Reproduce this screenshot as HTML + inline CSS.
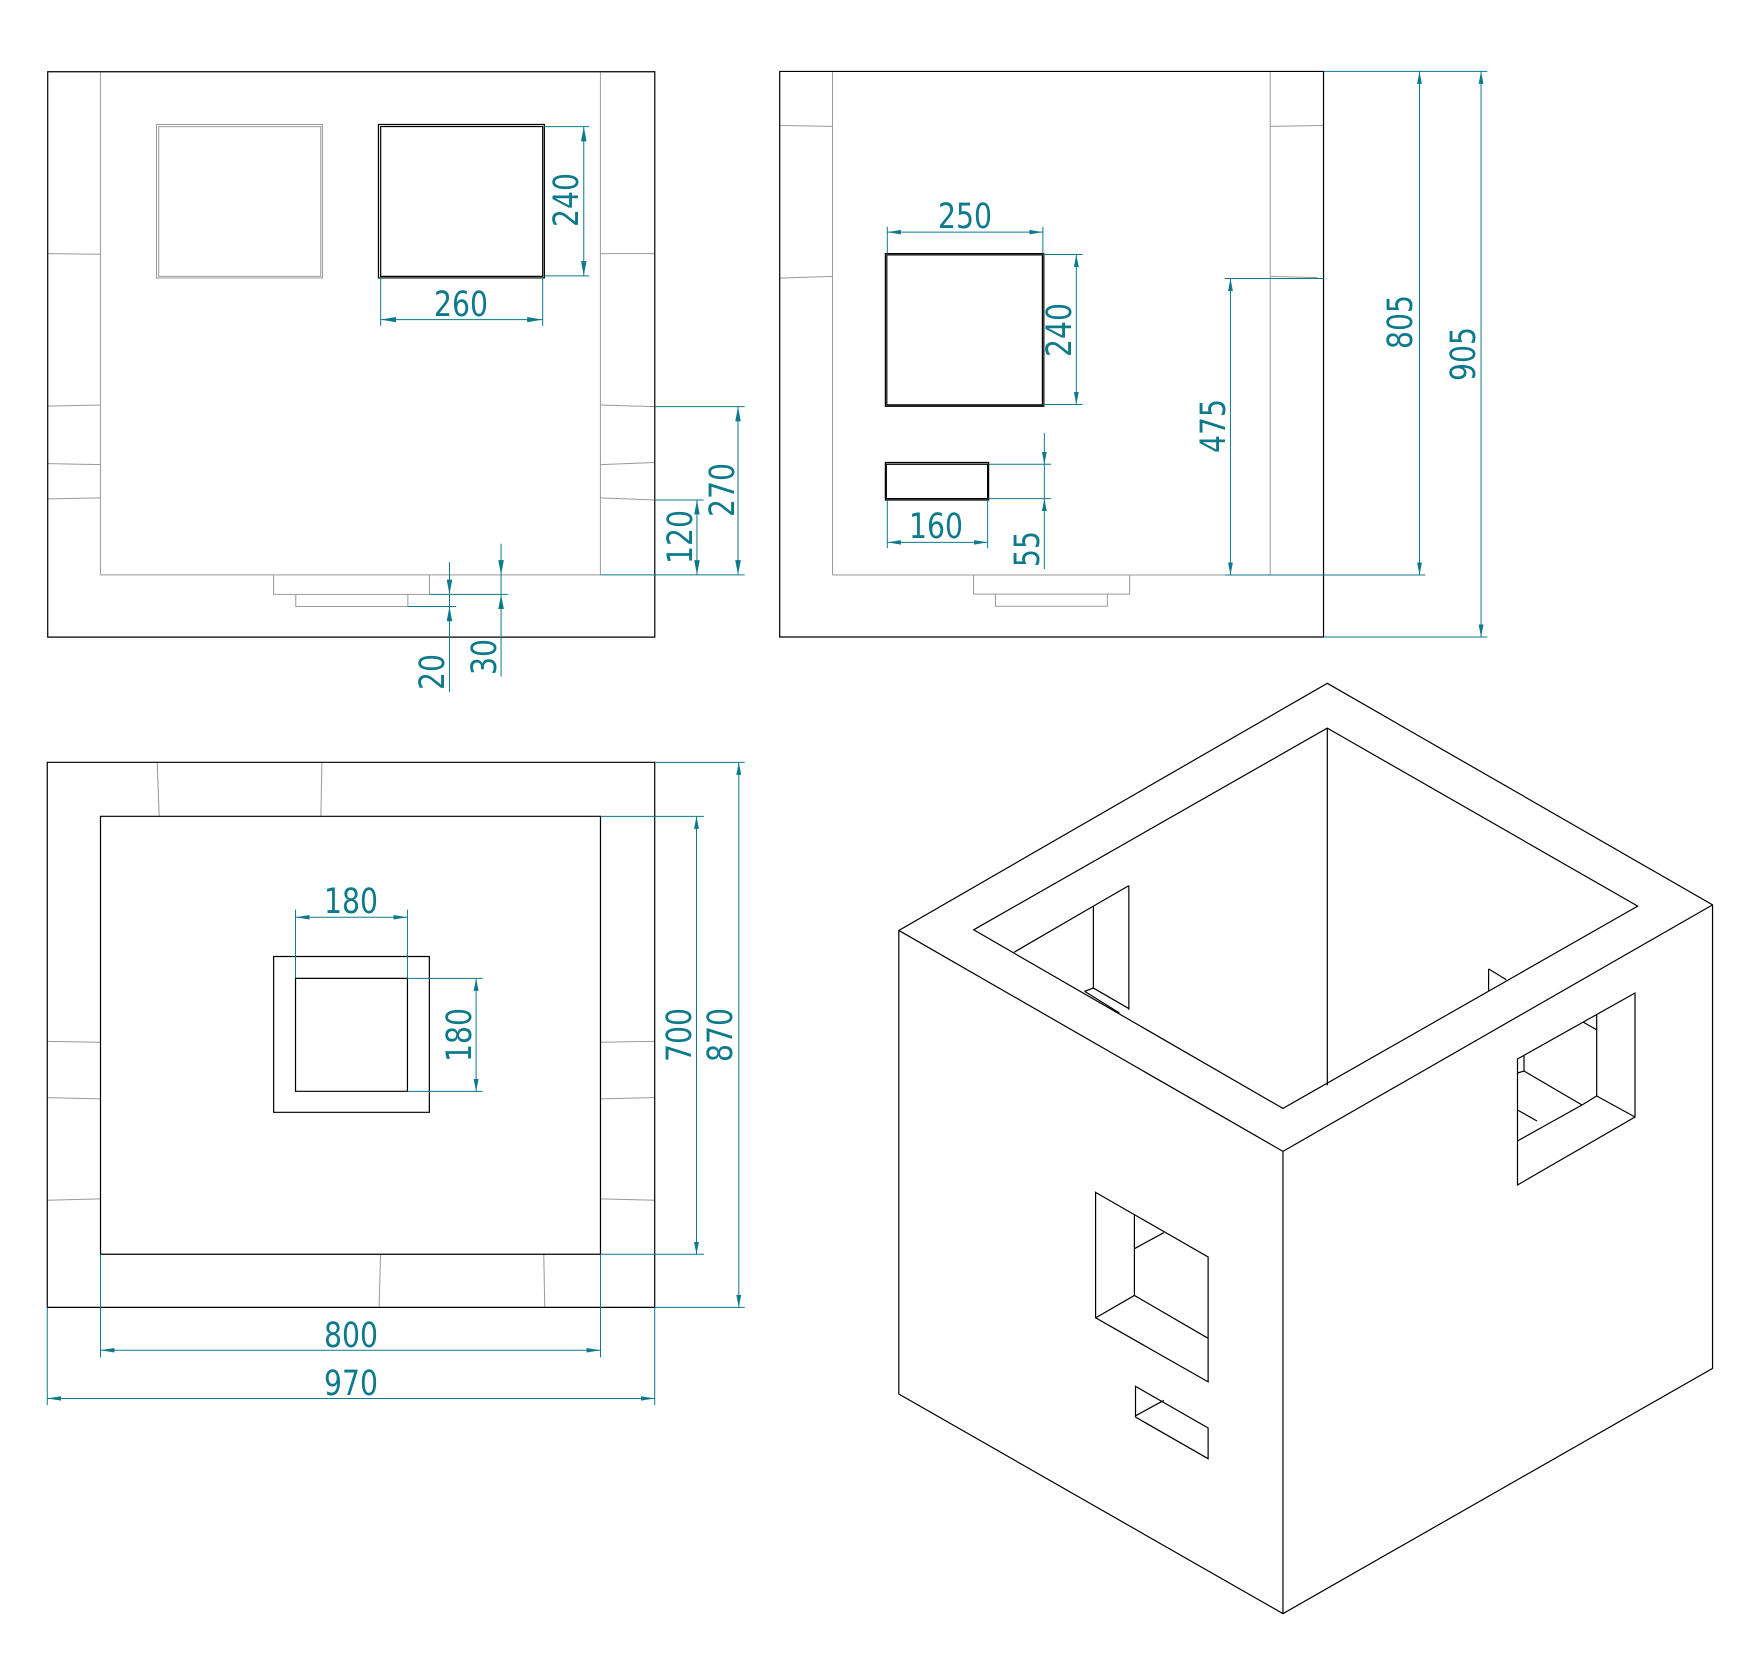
<!DOCTYPE html>
<html><head><meta charset="utf-8"><style>
html,body{margin:0;padding:0;background:#fff}
svg{display:block}
line,rect,polyline,polygon,path{vector-effect:non-scaling-stroke}
text{font-family:"DejaVu Sans","Liberation Sans",sans-serif;fill:#0d7a8c;font-size:35px}
</style></head><body>
<svg width="1739" height="1654" viewBox="0 0 1739 1654" xmlns="http://www.w3.org/2000/svg">
<defs>
<marker id="a" viewBox="0 0 28 14" refX="28" refY="7" markerWidth="28" markerHeight="14" orient="auto-start-reverse" markerUnits="userSpaceOnUse"><path d="M0,2 L28,7 L0,12z" fill="#0d7a8c"/></marker>
</defs>

<!-- VIEW 1 -->
<g transform="scale(0.5549,0.5274)" fill="none" stroke-width="1">
<g stroke="#999">
<line x1="181" y1="136" x2="181" y2="1090"/><line x1="1082" y1="136" x2="1082" y2="1090"/>
<line x1="181" y1="1090" x2="1082" y2="1090"/>
<line x1="86" y1="481" x2="181" y2="482"/><line x1="86" y1="770" x2="181" y2="768"/><line x1="86" y1="879" x2="181" y2="881"/><line x1="86" y1="946" x2="181" y2="944"/>
<line x1="1082" y1="481" x2="1180" y2="481"/><line x1="1082" y1="768" x2="1180" y2="771"/><line x1="1082" y1="881" x2="1180" y2="877"/><line x1="1082" y1="944" x2="1180" y2="948"/>
<rect x="282" y="236" width="299" height="291"/><rect x="286" y="240" width="292" height="284"/>
<polyline points="493,1090 493,1127 774,1127 774,1090"/>
<polyline points="533,1127 533,1150 735,1150 735,1127"/>
</g>
<g stroke="#000" stroke-width="1.2">
<rect x="86" y="136" width="1094" height="1072"/>
<rect x="682" y="236" width="299" height="291"/><rect x="686" y="240" width="292" height="284"/>
</g>
<g stroke="#0d7a8c">
<line x1="981" y1="240" x2="1062" y2="240"/><line x1="981" y1="523" x2="1062" y2="523"/>
<line x1="1052" y1="240" x2="1052" y2="523" marker-start="url(#a)" marker-end="url(#a)"/>
<line x1="686" y1="527" x2="686" y2="618"/><line x1="978" y1="527" x2="978" y2="618"/>
<line x1="686" y1="606" x2="978" y2="606" marker-start="url(#a)" marker-end="url(#a)"/>
<line x1="1180" y1="771" x2="1342" y2="771"/><line x1="1082" y1="1090" x2="1342" y2="1090"/>
<line x1="1330" y1="771" x2="1330" y2="1090" marker-start="url(#a)" marker-end="url(#a)"/>
<line x1="1180" y1="948" x2="1268" y2="948"/>
<line x1="1256" y1="948" x2="1256" y2="1090" marker-start="url(#a)" marker-end="url(#a)"/>
<line x1="774" y1="1127" x2="915" y2="1127"/><line x1="735" y1="1150" x2="822" y2="1150"/>
<line x1="810" y1="1066" x2="810" y2="1127" marker-end="url(#a)"/><line x1="810" y1="1312" x2="810" y2="1150" marker-end="url(#a)"/><line x1="810" y1="1127" x2="810" y2="1150"/>
<line x1="903" y1="1031" x2="903" y2="1090" marker-end="url(#a)"/><line x1="903" y1="1283" x2="903" y2="1127" marker-end="url(#a)"/><line x1="903" y1="1090" x2="903" y2="1127"/>
</g>
</g>
<text x="461" y="316" text-anchor="middle" textLength="54" lengthAdjust="spacingAndGlyphs">260</text>
<text transform="translate(567,200) rotate(-90)" text-anchor="middle" dominant-baseline="central" textLength="54" lengthAdjust="spacingAndGlyphs">240</text>
<text transform="translate(723,490) rotate(-90)" text-anchor="middle" dominant-baseline="central" textLength="54" lengthAdjust="spacingAndGlyphs">270</text>
<text transform="translate(681,537) rotate(-90)" text-anchor="middle" dominant-baseline="central" textLength="54" lengthAdjust="spacingAndGlyphs">120</text>
<text transform="translate(433,672) rotate(-90)" text-anchor="middle" dominant-baseline="central" textLength="36" lengthAdjust="spacingAndGlyphs">20</text>
<text transform="translate(485,657) rotate(-90)" text-anchor="middle" dominant-baseline="central" textLength="36" lengthAdjust="spacingAndGlyphs">30</text>

<!-- VIEW 2 -->
<g transform="translate(770,0) scale(0.4847,0.4464)" fill="none" stroke-width="1">
<g stroke="#999">
<line x1="129" y1="160" x2="129" y2="1288"/><line x1="1032" y1="160" x2="1032" y2="1288"/>
<line x1="129" y1="1288" x2="938" y2="1288"/>
<line x1="20" y1="281" x2="129" y2="283"/><line x1="20" y1="623" x2="129" y2="619"/>
<line x1="1032" y1="283" x2="1142" y2="281"/><line x1="1032" y1="619" x2="1130" y2="622"/>
<polyline points="420,1288 420,1331 742,1331 742,1288"/>
<polyline points="465,1331 465,1358 696,1358 696,1331"/>
</g>
<g stroke="#000" stroke-width="1.2">
<rect x="20" y="160" width="1122" height="1267"/>
<rect x="238" y="568" width="327" height="342"/><rect x="241" y="571" width="321" height="336"/>
<rect x="238" y="1036" width="213" height="84"/><rect x="240" y="1040" width="209" height="77"/>
</g>
<g stroke="#0d7a8c">
<line x1="242" y1="508" x2="242" y2="568"/><line x1="563" y1="508" x2="563" y2="568"/>
<line x1="242" y1="520" x2="563" y2="520" marker-start="url(#a)" marker-end="url(#a)"/>
<line x1="565" y1="570" x2="645" y2="570"/><line x1="565" y1="906" x2="645" y2="906"/>
<line x1="632" y1="570" x2="632" y2="906" marker-start="url(#a)" marker-end="url(#a)"/>
<line x1="242" y1="1120" x2="242" y2="1228"/><line x1="449" y1="1120" x2="449" y2="1228"/>
<line x1="242" y1="1215" x2="449" y2="1215" marker-start="url(#a)" marker-end="url(#a)"/>
<line x1="451" y1="1040" x2="580" y2="1040"/><line x1="451" y1="1117" x2="580" y2="1117"/>
<line x1="566" y1="970" x2="566" y2="1040" marker-end="url(#a)"/><line x1="566" y1="1275" x2="566" y2="1117" marker-end="url(#a)"/><line x1="566" y1="1040" x2="566" y2="1117"/>
<line x1="938" y1="624" x2="1142" y2="624"/><line x1="938" y1="1288" x2="1352" y2="1288"/>
<line x1="950" y1="624" x2="950" y2="1288" marker-start="url(#a)" marker-end="url(#a)"/>
<line x1="1142" y1="160" x2="1480" y2="160"/><line x1="1142" y1="1427" x2="1480" y2="1427"/>
<line x1="1340" y1="160" x2="1340" y2="1288" marker-start="url(#a)" marker-end="url(#a)"/>
<line x1="1467" y1="160" x2="1467" y2="1427" marker-start="url(#a)" marker-end="url(#a)"/>
</g>
</g>
<text x="965" y="228" text-anchor="middle" textLength="54" lengthAdjust="spacingAndGlyphs">250</text>
<text transform="translate(1060,330) rotate(-90)" text-anchor="middle" dominant-baseline="central" textLength="54" lengthAdjust="spacingAndGlyphs">240</text>
<text x="936" y="538" text-anchor="middle" textLength="54" lengthAdjust="spacingAndGlyphs">160</text>
<text transform="translate(1028,549) rotate(-90)" text-anchor="middle" dominant-baseline="central" textLength="36" lengthAdjust="spacingAndGlyphs">55</text>
<text transform="translate(1214,426) rotate(-90)" text-anchor="middle" dominant-baseline="central" textLength="54" lengthAdjust="spacingAndGlyphs">475</text>
<text transform="translate(1401,322) rotate(-90)" text-anchor="middle" dominant-baseline="central" textLength="54" lengthAdjust="spacingAndGlyphs">805</text>
<text transform="translate(1464,354) rotate(-90)" text-anchor="middle" dominant-baseline="central" textLength="54" lengthAdjust="spacingAndGlyphs">905</text>

<!-- VIEW 3 -->
<g transform="translate(0,740) scale(0.4975,0.4464)" fill="none" stroke-width="1">
<g stroke="#999">
<line x1="316" y1="50" x2="320" y2="171"/><line x1="647" y1="50" x2="645" y2="171"/>
<line x1="765" y1="1152" x2="762" y2="1271"/><line x1="1093" y1="1152" x2="1095" y2="1271"/>
<line x1="95" y1="675" x2="202" y2="677"/><line x1="95" y1="801" x2="202" y2="804"/><line x1="95" y1="1031" x2="202" y2="1028"/>
<line x1="1207" y1="677" x2="1316" y2="675"/><line x1="1207" y1="804" x2="1316" y2="801"/><line x1="1207" y1="1028" x2="1316" y2="1031"/>
</g>
<g stroke="#000" stroke-width="1.2">
<rect x="95" y="50" width="1221" height="1221"/>
<rect x="202" y="171" width="1005" height="981"/>
<rect x="550" y="485" width="313" height="349"/>
<rect x="594" y="534" width="225" height="253"/>
</g>
<g stroke="#0d7a8c">
<line x1="594" y1="380" x2="594" y2="534"/><line x1="819" y1="380" x2="819" y2="534"/>
<line x1="594" y1="397" x2="819" y2="397" marker-start="url(#a)" marker-end="url(#a)"/>
<line x1="819" y1="534" x2="970" y2="534"/><line x1="819" y1="787" x2="970" y2="787"/>
<line x1="957" y1="534" x2="957" y2="787" marker-start="url(#a)" marker-end="url(#a)"/>
<line x1="1207" y1="171" x2="1415" y2="171"/><line x1="1207" y1="1152" x2="1415" y2="1152"/>
<line x1="1400" y1="171" x2="1400" y2="1152" marker-start="url(#a)" marker-end="url(#a)"/>
<line x1="1316" y1="50" x2="1497" y2="50"/><line x1="1316" y1="1271" x2="1497" y2="1271"/>
<line x1="1485" y1="50" x2="1485" y2="1271" marker-start="url(#a)" marker-end="url(#a)"/>
<line x1="202" y1="1152" x2="202" y2="1383"/><line x1="1207" y1="1152" x2="1207" y2="1383"/>
<line x1="202" y1="1367" x2="1207" y2="1367" marker-start="url(#a)" marker-end="url(#a)"/>
<line x1="95" y1="1271" x2="95" y2="1490"/><line x1="1316" y1="1271" x2="1316" y2="1490"/>
<line x1="95" y1="1475" x2="1316" y2="1475" marker-start="url(#a)" marker-end="url(#a)"/>
</g>
</g>
<text x="351" y="913" text-anchor="middle" textLength="54" lengthAdjust="spacingAndGlyphs">180</text>
<text transform="translate(460,1035) rotate(-90)" text-anchor="middle" dominant-baseline="central" textLength="54" lengthAdjust="spacingAndGlyphs">180</text>
<text transform="translate(680,1035) rotate(-90)" text-anchor="middle" dominant-baseline="central" textLength="54" lengthAdjust="spacingAndGlyphs">700</text>
<text transform="translate(721,1035) rotate(-90)" text-anchor="middle" dominant-baseline="central" textLength="54" lengthAdjust="spacingAndGlyphs">870</text>
<text x="351" y="1347" text-anchor="middle" textLength="54" lengthAdjust="spacingAndGlyphs">800</text>
<text x="351" y="1395" text-anchor="middle" textLength="54" lengthAdjust="spacingAndGlyphs">970</text>

<!-- ISO -->
<g transform="translate(870,650) scale(0.5543,0.6403)" fill="none" stroke="#000" stroke-width="1.2">
<polygon points="825,52 1520,398 1520,1122 745,1505 52,1162 52,438"/>
<polyline points="52,438 745,783 1520,398"/>
<line x1="745" y1="783" x2="745" y2="1505"/>
<polygon points="825,122 1385,400 745,716 187,437"/>
<line x1="825" y1="122" x2="825" y2="680"/>
<line x1="260" y1="472" x2="403" y2="400"/><line x1="403" y1="400" x2="403" y2="528"/>
<line x1="403" y1="400" x2="467" y2="368"/><line x1="467" y1="368" x2="467" y2="562"/>
<line x1="387" y1="533" x2="403" y2="528"/><line x1="403" y1="528" x2="467" y2="560"/>
<line x1="387" y1="533" x2="450" y2="567"/>
<line x1="1116" y1="498" x2="1116" y2="532"/><line x1="1116" y1="498" x2="1148" y2="515"/>
<polygon points="407,847 610,948 610,1143 407,1043"/>
<line x1="477" y1="883" x2="477" y2="1008"/><line x1="477" y1="1008" x2="610" y2="1075"/>
<line x1="477" y1="1008" x2="407" y2="1043"/><line x1="477" y1="935" x2="530" y2="910"/>
<polygon points="479,1150 610,1215 610,1263 479,1198"/>
<line x1="479" y1="1196" x2="530" y2="1172"/>
</g>
<g fill="none" stroke="#000" stroke-width="1.2">
<polygon points="1517.5,1059 1635,993 1635,1117 1517.5,1185"/>
<line x1="1596.7" y1="1015" x2="1596.7" y2="1096"/>
<line x1="1596.7" y1="1096" x2="1635" y2="1117"/>
<polyline points="1596.7,1096 1582,1105 1517.5,1141"/>
<line x1="1517.5" y1="1110" x2="1537" y2="1121"/>
<line x1="1524" y1="1056" x2="1524" y2="1071"/>
<polyline points="1517.5,1073 1524,1071 1582,1105"/>
<line x1="1583" y1="1022" x2="1597" y2="1030"/>
</g>
</svg>
</body></html>
